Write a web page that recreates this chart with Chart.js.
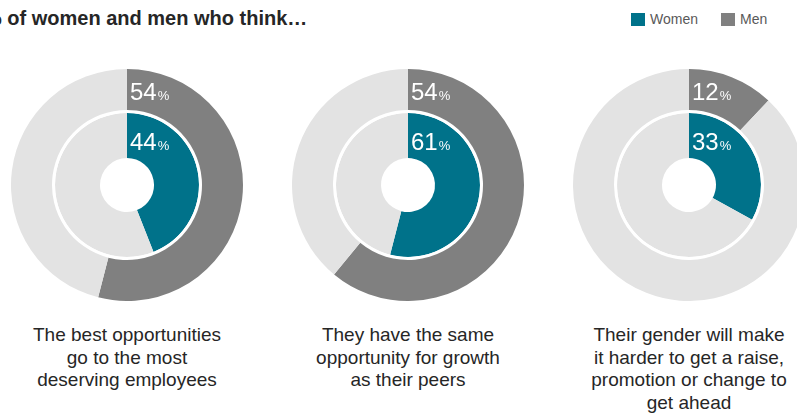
<!DOCTYPE html>
<html>
<head>
<meta charset="utf-8">
<script src="https://cdn.jsdelivr.net/npm/chart.js@4.4.1/dist/chart.umd.min.js"></script>
<style>
  html, body { margin:0; padding:0; background:#fff; }
  body { width:797px; height:416px; position:relative; overflow:hidden; font-family:"Liberation Sans", Arial, sans-serif; }
  #title { position:absolute; left:-16px; top:7px; font-weight:bold; font-size:20px; line-height:23px; color:#262626; white-space:nowrap; }
  .leg { position:absolute; top:11px; font-size:14px; color:#595959; white-space:nowrap; line-height:16px; }
  .leg span.sw { display:inline-block; width:14px; height:13px; vertical-align:-2px; margin-right:5px; }
  canvas.donut { position:absolute; top:69px; }
  .cap { position:absolute; top:324px; width:280px; text-align:center; font-size:19px; line-height:22.5px; color:#262626; }
</style>
</head>
<body>
<div id="title">% of women and men who think…</div>
<div id="legend"></div>
<div id="charts"></div>
<script>
// ---- data ----
const categories = [
  ["The best opportunities", "go to the most", "deserving employees"],
  ["They have the same", "opportunity for growth", "as their peers"],
  ["Their gender will make", "it harder to get a raise,", "promotion or change to", "get ahead"]
];
const seriesNames = ["Women", "Men"];
// arc values as drawn
const womenValues = [44, 54, 33];
const menValues   = [54, 61, 12];
// value labels as printed
const womenLabels = ["44", "61", "33"];
const menLabels   = ["54", "54", "12"];

const colors = { Women: "#00728a", Men: "#808080", rest: "#e3e3e3" };
const centersX = [127, 408, 689];
const R = 116;

// legend
const legend = document.getElementById('legend');
const legX = [631, 721];
seriesNames.forEach((n, i) => {
  const d = document.createElement('div');
  d.className = 'leg';
  d.style.left = legX[i] + 'px';
  d.innerHTML = '<span class="sw" style="background:' + colors[n] + '"></span>' + n;
  legend.appendChild(d);
});

const labelPlugin = {
  id: 'pctLabels',
  afterDatasetsDraw(chart, args, opts) {
    const ctx = chart.ctx;
    const ca = chart.chartArea;
    const cx = (ca.left + ca.right) / 2, cy = (ca.top + ca.bottom) / 2;
    const items = [[opts.men, cy - 85], [opts.women, cy - 35]];
    ctx.save();
    ctx.fillStyle = '#ffffff';
    ctx.textBaseline = 'alphabetic';
    ctx.textAlign = 'left';
    items.forEach(([txt, y]) => {
      ctx.font = '24px "Liberation Sans", Arial, sans-serif';
      const w = ctx.measureText(txt).width;
      ctx.fillText(txt, cx + 3, y);
      ctx.font = '13px "Liberation Sans", Arial, sans-serif';
      ctx.fillText('%', cx + 3 + w + 1, y);
    });
    ctx.restore();
  }
};

const holder = document.getElementById('charts');
categories.forEach((cat, i) => {
  const c = document.createElement('canvas');
  c.className = 'donut';
  c.width = 2 * R; c.height = 2 * R;
  c.style.left = (centersX[i] - R) + 'px';
  holder.appendChild(c);
  new Chart(c, {
    type: 'doughnut',
    data: {
      labels: ['value', 'rest'],
      datasets: [
        { label: 'Men', data: [menValues[i], 100 - menValues[i]], backgroundColor: [colors.Men, colors.rest], weight: 41, borderWidth: 0 },
        { label: 'gap', data: [100], backgroundColor: ['#ffffff'], weight: 3, borderWidth: 0 },
        { label: 'Women', data: [womenValues[i], 100 - womenValues[i]], backgroundColor: [colors.Women, colors.rest], weight: 45, borderWidth: 0 }
      ]
    },
    options: {
      responsive: false,
      animation: false,
      cutout: (27 / R * 100) + '%',
      layout: { padding: 0 },
      plugins: {
        legend: { display: false },
        tooltip: { enabled: false },
        pctLabels: { men: menLabels[i], women: womenLabels[i] }
      }
    },
    plugins: [labelPlugin]
  });

  const cp = document.createElement('div');
  cp.className = 'cap';
  cp.style.left = (centersX[i] - 140) + 'px';
  cp.innerHTML = cat.join('<br>');
  holder.appendChild(cp);
});
</script>
</body>
</html>
